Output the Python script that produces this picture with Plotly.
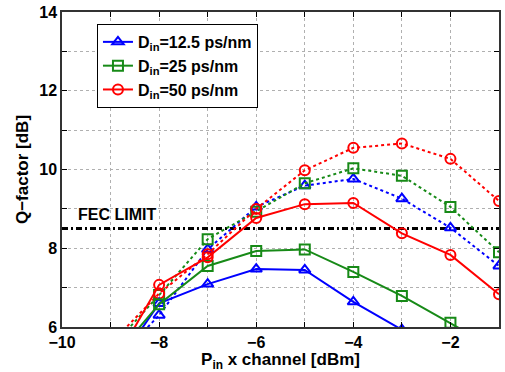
import plotly.graph_objects as go

x = [-9, -8, -7, -6, -5, -4, -3, -2, -1]
blue_solid = [4.8, 6.6, 7.09, 7.47, 7.45, 6.64, 5.93, 5.2, 4.4]
blue_dotted = [5.0, 6.3, 7.97, 9.05, 9.59, 9.76, 9.26, 8.52, 7.55]
green_solid = [5.13, 6.58, 7.55, 7.93, 7.97, 7.4, 6.79, 6.11, 5.4]
green_dotted = [5.46, 6.81, 8.23, 8.93, 9.65, 10.03, 9.84, 9.05, 7.9]
red_solid = [4.93, 7.07, 7.77, 8.77, 9.12, 9.15, 8.38, 7.83, 6.83]
red_dotted = [5.58, 6.85, 7.85, 9.0, 9.98, 10.55, 10.66, 10.27, 9.2]
fec_x = [-10, -1]
fec_y = [8.5, 8.5]
legend_names = ["<b>D<sub>in</sub>=12.5 ps/nm</b>", "<b>D<sub>in</sub>=25 ps/nm</b>", "<b>D<sub>in</sub>=50 ps/nm</b>"]

BLUE = "#0000ff"
GREEN = "#178a17"
RED = "#ff0000"
FONT = "Liberation Sans, Arial, sans-serif"

fig = go.Figure()

fig.add_trace(go.Scatter(x=fec_x, y=fec_y, mode="lines", showlegend=False,
                         line=dict(color="black", width=3, dash="6px,3px,2px,3px")))

series = [
    (blue_dotted, BLUE, "triangle-up-open", "dot", False, None),
    (green_dotted, GREEN, "square-open", "dot", False, None),
    (red_dotted, RED, "circle-open", "dot", False, None),
    (blue_solid, BLUE, "triangle-up-open", "solid", True, legend_names[0]),
    (green_solid, GREEN, "square-open", "solid", True, legend_names[1]),
    (red_solid, RED, "circle-open", "solid", True, legend_names[2]),
]
for ys, col, sym, dash, sl, name in series:
    fig.add_trace(go.Scatter(
        x=x, y=ys, mode="lines+markers", showlegend=sl, name=name,
        line=dict(color=col, width=2, dash=dash),
        marker=dict(symbol=sym, size=10, color=col, line=dict(width=2, color=col)),
        legendrank={BLUE: 1, GREEN: 2, RED: 3}[col],
    ))

fig.add_annotation(x=-9.72, y=8.86, text="<b>FEC LIMIT</b>", showarrow=False,
                   xanchor="left", yanchor="middle",
                   font=dict(family=FONT, size=16, color="black"))

xt = list(range(-10, 0))
yt = list(range(6, 15))
fig.update_xaxes(range=[-10, -1], tickvals=xt,
                 ticktext=[f"<b>\u2212{abs(v)}</b>" if v % 2 == 0 else "" for v in xt],
                 ticks="inside", ticklen=5, tickwidth=1, tickcolor="black",
                 showline=True, linecolor="#333333", linewidth=1.5, mirror="allticks",
                 showgrid=True, gridcolor="#b0b0b0", griddash="dot", gridwidth=1,
                 zeroline=False,
                 title=dict(text="<b>P<sub>in</sub> x channel [dBm]</b>", standoff=2,
                            font=dict(family=FONT, size=17, color="black")),
                 tickfont=dict(family=FONT, size=16, color="black"))
fig.update_yaxes(range=[6, 14], tickvals=yt,
                 ticktext=[f"<b>{v}</b>" if v % 2 == 0 else "" for v in yt],
                 ticks="inside", ticklen=5, tickwidth=1, tickcolor="black",
                 showline=True, linecolor="#333333", linewidth=1.5, mirror="allticks",
                 showgrid=True, gridcolor="#b0b0b0", griddash="dot", gridwidth=1,
                 zeroline=False,
                 title=dict(text="<b>Q\u2212factor [dB]</b>", standoff=6,
                            font=dict(family=FONT, size=17, color="black")),
                 tickfont=dict(family=FONT, size=16, color="black"))

fig.update_layout(
    width=505, height=372,
    margin=dict(l=62, r=4, t=12, b=45),
    plot_bgcolor="white", paper_bgcolor="white",
    font=dict(family=FONT, color="black"),
    legend=dict(x=0.08, y=0.962, xanchor="left", yanchor="top",
                bgcolor="white", bordercolor="black", borderwidth=1,
                font=dict(family=FONT, size=16, color="black"),
                tracegroupgap=0, itemwidth=30),
)

fig.write_html("out.html")
